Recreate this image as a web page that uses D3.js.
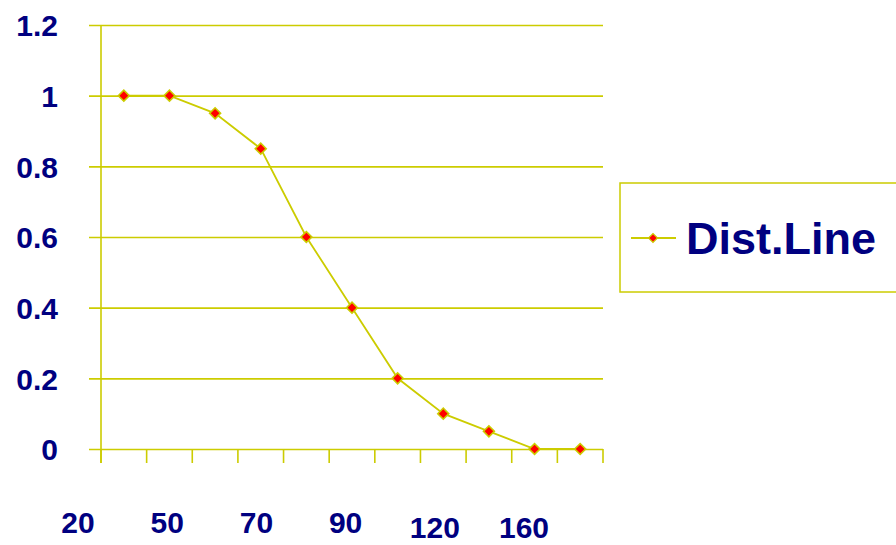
<!DOCTYPE html>
<html>
<head>
<meta charset="utf-8">
<script src="https://cdn.jsdelivr.net/npm/d3@7"></script>
<style>
  body { margin: 0; background: #fff; }
  svg { display: block; font-family: "Liberation Sans", Arial, sans-serif; font-weight: bold; }
</style>
</head>
<body>
<svg id="chart" width="896" height="545"></svg>
<script>
// data
const categories = ["1", "2", "3", "4", "5", "6", "7", "8", "9", "10", "11"];
const distValues = [1, 1, 0.95, 0.85, 0.6, 0.4, 0.2, 0.1, 0.05, 0, 0];
const xTickLabels = ["20", "50", "70", "90", "120", "160"];
const yTicks = [0, 0.2, 0.4, 0.6, 0.8, 1, 1.2];
const seriesName = "Dist.Line";

const olive = "#cccc00";
const navy = "#000080";

const svg = d3.select("#chart");
const plot = { left: 101, right: 603, top: 25, bottom: 449 };

const x = d3.scaleBand().domain(categories).range([plot.left, plot.right]);
const y = d3.scaleLinear().domain([0, 1.2]).range([plot.bottom, plot.top]);

// gridlines + y axis
const yAxis = d3.axisLeft(y).tickValues(yTicks).tickSize(12).tickFormat(d3.format("~g"));
const gy = svg.append("g").attr("transform", `translate(${plot.left},0)`).call(yAxis);
gy.select(".domain").remove();
gy.selectAll(".tick line").remove();
gy.selectAll(".tick").append("line")
  .attr("x1", -12).attr("x2", plot.right - plot.left)
  .attr("stroke", olive).attr("stroke-width", 1.6);
gy.selectAll(".tick text")
  .attr("x", -43).attr("dy", "0.36em")
  .attr("fill", navy).attr("font-size", 30).attr("font-weight", "bold");

svg.append("line")
  .attr("x1", plot.left).attr("x2", plot.left)
  .attr("y1", plot.top).attr("y2", plot.bottom + 14)
  .attr("stroke", olive).attr("stroke-width", 1.6);

// x axis with ticks between categories
const edges = categories.map(c => x(c)).concat([plot.right]);
svg.append("g").selectAll("line").data(edges).join("line")
  .attr("x1", d => d).attr("x2", d => d)
  .attr("y1", plot.bottom).attr("y2", plot.bottom + 14)
  .attr("stroke", olive).attr("stroke-width", 1.6);

// x labels (every other category, as drawn in the original)
const xl = d3.scalePoint().domain(xTickLabels).range([78, 524]);
svg.append("g").selectAll("text").data(xTickLabels).join("text")
  .attr("x", d => xl(d))
  .attr("y", (d, i) => i >= 4 ? 538 : 533)
  .attr("text-anchor", "middle")
  .attr("fill", navy).attr("font-size", 30)
  .text(d => d);

// series
const cx = i => x(categories[i]) + x.bandwidth() / 2;
const line = d3.line()
  .x((d, i) => cx(i))
  .y(d => y(d));

svg.append("path").datum(distValues)
  .attr("d", line).attr("fill", "none")
  .attr("stroke", olive).attr("stroke-width", 1.8);

svg.append("g").selectAll("path").data(distValues).join("path")
  .attr("transform", (d, i) => `translate(${cx(i)},${y(d)}) rotate(45)`)
  .attr("d", d3.symbol().type(d3.symbolSquare).size(60))
  .attr("fill", "#ff0000").attr("stroke", olive).attr("stroke-width", 1.6);

// legend
const lg = svg.append("g").attr("transform", "translate(620,183)");
lg.append("rect").attr("width", 290).attr("height", 109)
  .attr("fill", "#fff").attr("stroke", olive).attr("stroke-width", 1.5);
lg.append("line").attr("x1", 11).attr("x2", 56).attr("y1", 55).attr("y2", 55)
  .attr("stroke", olive).attr("stroke-width", 1.8);
lg.append("path")
  .attr("transform", "translate(33,55) rotate(45)")
  .attr("d", d3.symbol().type(d3.symbolSquare).size(40))
  .attr("fill", "#ff0000").attr("stroke", olive).attr("stroke-width", 1.2);
lg.append("text").attr("x", 66).attr("y", 71)
  .attr("fill", navy).attr("font-size", 45)
  .text(seriesName);
</script>
</body>
</html>
